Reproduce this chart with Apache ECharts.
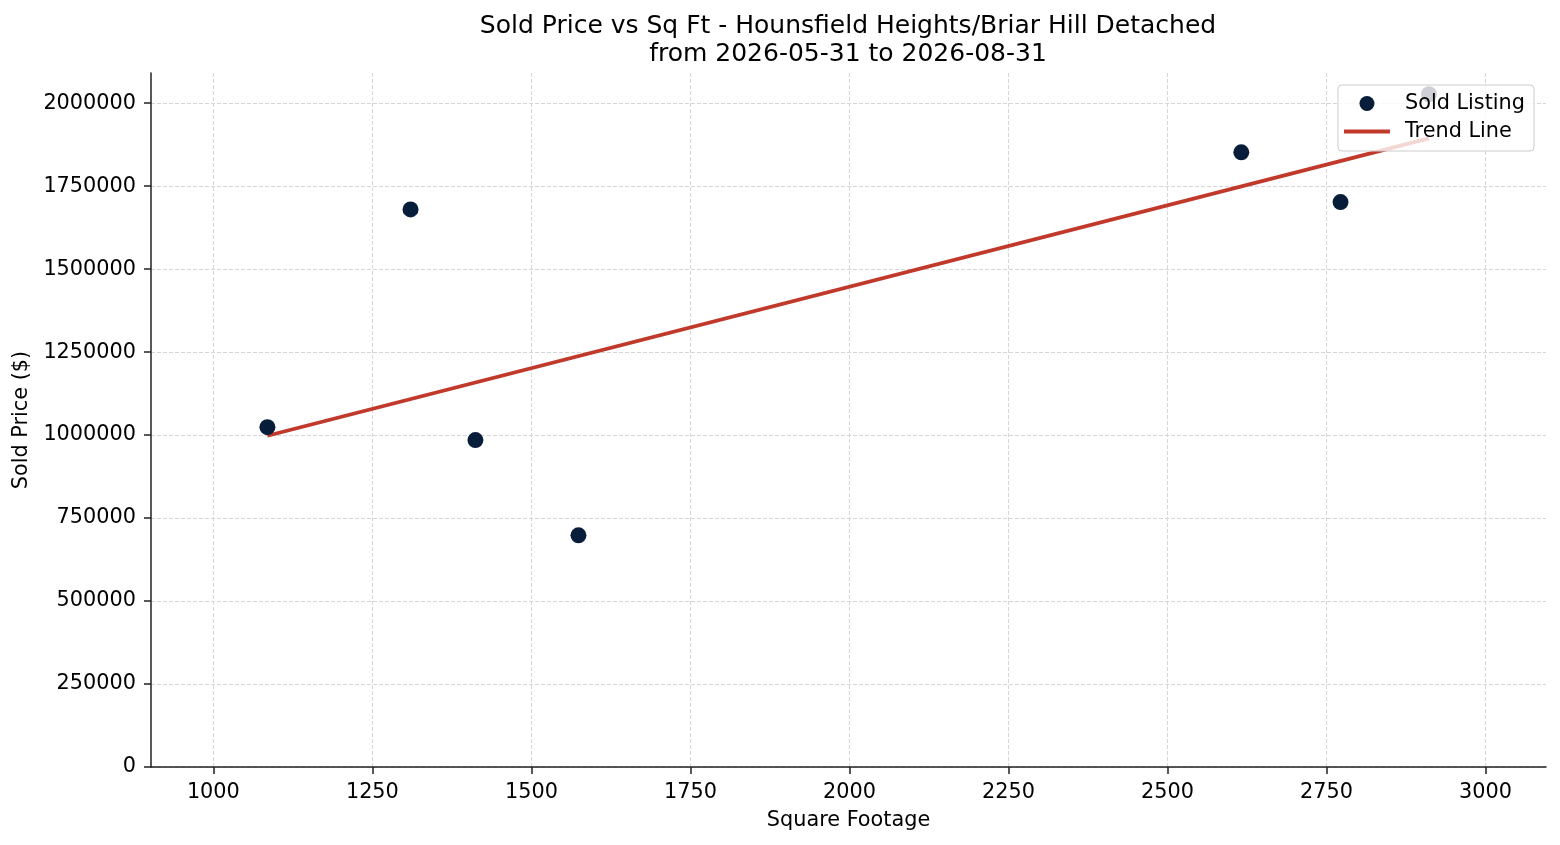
<!DOCTYPE html>
<html>
<head>
<meta charset="utf-8">
<title>Sold Price vs Sq Ft</title>
<script src="https://cdn.jsdelivr.net/npm/echarts@6/dist/echarts.min.js"></script>
<style>
    html, body { margin: 0; padding: 0; background: #fff; }
    #chart { width: 1560px; height: 845px; }
</style>
</head>
<body>
<div id="chart"></div>
<script>
// 数据：面积 / 成交价
var sqFt = [1085, 1310, 1412, 1574, 2616, 2772, 2911];
var soldPrice = [1024000, 1680000, 985000, 698000, 1852000, 1702000, 2027000];
// 趋势线两端
var trendX = [1085, 2911];
var trendY = [998000, 1894000];
// 刻度
var xTicks = [1000, 1250, 1500, 1750, 2000, 2250, 2500, 2750, 3000];
var yTicks = [0, 250000, 500000, 750000, 1000000, 1250000, 1500000, 1750000, 2000000];

var font = 'DejaVu Sans';
var axisColor = '#222';

var points = sqFt.map(function (x, i) { return [x, soldPrice[i]]; });
var trend = trendX.map(function (x, i) { return [x, trendY[i]]; });

var myChart = echarts.init(document.getElementById('chart'));

var option = {
    animation: false,
    backgroundColor: '#fff',
    title: {
        text: 'Sold Price vs Sq Ft - Hounsfield Heights/Briar Hill Detached\nfrom 2026-05-31 to 2026-08-31',
        left: 848,
        textAlign: 'center',
        top: 12,
        padding: 0,
        textStyle: {
            fontFamily: font,
            fontSize: 25,
            fontWeight: 'normal',
            color: '#000',
            lineHeight: 28
        }
    },
    legend: {
        orient: 'vertical',
        right: 26,
        top: 85,
        padding: [8, 9, 9, 6],
        itemGap: 7,
        itemWidth: 46,
        itemHeight: 15,
        symbolKeepAspect: true,
        backgroundColor: 'rgba(255,255,255,0.8)',
        borderColor: '#cccccc',
        borderWidth: 1,
        borderRadius: 4,
        textStyle: {
            fontFamily: font,
            fontSize: 20.8,
            color: '#000',
            padding: [0, 0, 0, 10]
        },
        data: [
            { name: 'Sold Listing', icon: 'circle' },
            { name: 'Trend Line', icon: 'path://M0,0L46,0L46,4L0,4Z' }
        ]
    },
    grid: {
        left: 151,
        right: 14,
        top: 73,
        bottom: 78
    },
    xAxis: {
        type: 'value',
        min: 902,
        max: 3095,
        name: 'Square Footage',
        nameLocation: 'middle',
        nameGap: 43,
        nameTextStyle: { fontFamily: font, fontSize: 20.8, color: '#000' },
        axisLine: { show: true, onZero: false, lineStyle: { color: axisColor, width: 1.5 } },
        axisTick: { show: true, length: 7, customValues: xTicks, lineStyle: { color: axisColor, width: 1.5 } },
        axisLabel: {
            customValues: xTicks,
            margin: 15,
            fontFamily: font,
            fontSize: 20.8,
            color: '#000',
            formatter: function (v) { return String(v); }
        },
        splitLine: { show: true, lineStyle: { color: '#d6d6d6', width: 1, type: [4, 2] } }
    },
    yAxis: {
        type: 'value',
        min: 0,
        max: 2091000,
        name: 'Sold Price ($)',
        nameLocation: 'middle',
        nameGap: 113,
        nameTextStyle: { fontFamily: font, fontSize: 20.8, color: '#000' },
        axisLine: { show: true, onZero: false, lineStyle: { color: axisColor, width: 1.5 } },
        axisTick: { show: true, length: 7, customValues: yTicks, lineStyle: { color: axisColor, width: 1.5 } },
        axisLabel: {
            customValues: yTicks,
            margin: 15,
            fontFamily: font,
            fontSize: 20.8,
            color: '#000',
            formatter: function (v) { return String(v); }
        },
        splitLine: { show: true, lineStyle: { color: '#d6d6d6', width: 1, type: [4, 2] } }
    },
    series: [
        {
            name: 'Sold Listing',
            type: 'scatter',
            symbol: 'circle',
            symbolSize: 16,
            itemStyle: { color: '#081d3a', opacity: 1 },
            data: points,
            z: 3
        },
        {
            name: 'Trend Line',
            type: 'line',
            symbol: 'none',
            lineStyle: { color: '#c0392b', width: 3.8 },
            itemStyle: { color: '#c0392b' },
            data: trend,
            z: 2
        }
    ]
};

myChart.setOption(option);
</script>
</body>
</html>
